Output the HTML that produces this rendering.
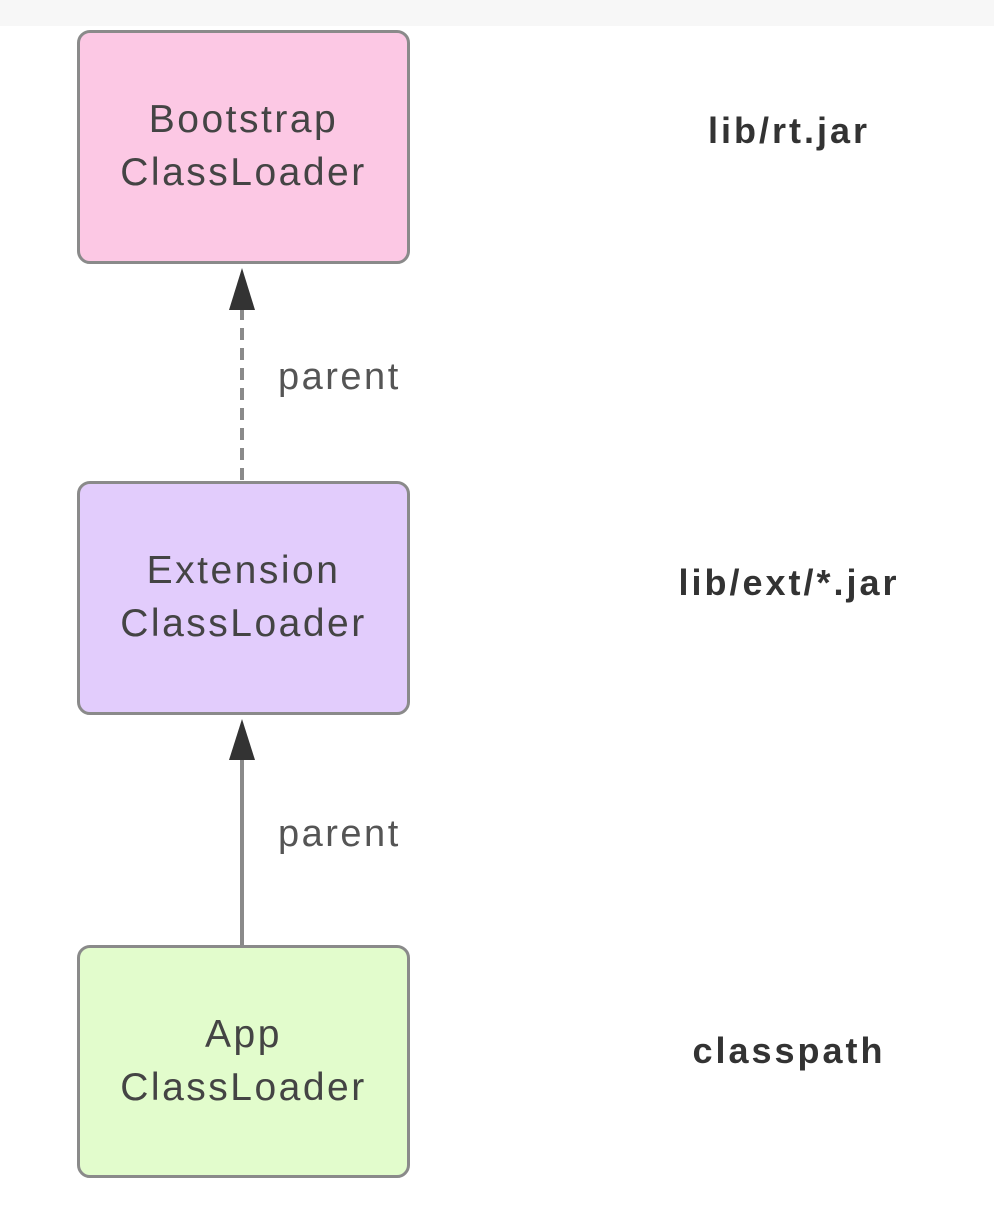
<!DOCTYPE html>
<html><head><meta charset="utf-8"><style>
html,body{margin:0;padding:0;background:#fff;}
body{width:994px;height:1218px;position:relative;overflow:hidden;font-family:"Liberation Sans",sans-serif;}
.top{position:absolute;left:0;top:0;width:994px;height:26px;background:#f7f7f7;}
.box{position:absolute;left:77px;width:333px;border:3px solid #8a8a8a;border-radius:13px;display:flex;align-items:center;justify-content:center;text-align:center;font-size:39px;letter-spacing:2.5px;line-height:53px;color:#444;padding-bottom:2px;box-sizing:border-box;}
.lab{position:absolute;font-size:36px;letter-spacing:3px;font-weight:bold;color:#333;text-align:center;width:340px;left:619px;}
.par{position:absolute;left:278px;font-size:38px;letter-spacing:2.5px;color:#555;}
</style></head><body>
<div class="top"></div>
<div class="box" style="top:30px;height:234px;background:#fcc8e4;">Bootstrap<br>ClassLoader</div>
<div class="box" style="top:481px;height:234px;background:#e2ccfc;">Extension<br>ClassLoader</div>
<div class="box" style="top:945px;height:233px;background:#e2fccc;">App<br>ClassLoader</div>
<div class="lab" style="top:110px;">lib/rt.jar</div>
<div class="lab" style="top:562px;">lib/ext/*.jar</div>
<div class="lab" style="top:1030px;">classpath</div>
<div class="par" style="top:356px;">parent</div>
<div class="par" style="top:813px;">parent</div>
<svg width="994" height="1218" style="position:absolute;left:0;top:0">
<line x1="242" y1="480" x2="242" y2="306" stroke="#8a8a8a" stroke-width="4" stroke-dasharray="12,8"/>
<polygon points="242,268 229,310 255,310" fill="#333"/>
<line x1="242" y1="945" x2="242" y2="756" stroke="#8a8a8a" stroke-width="4"/>
<polygon points="242,719 229,760 255,760" fill="#333"/>
</svg>
</body></html>
